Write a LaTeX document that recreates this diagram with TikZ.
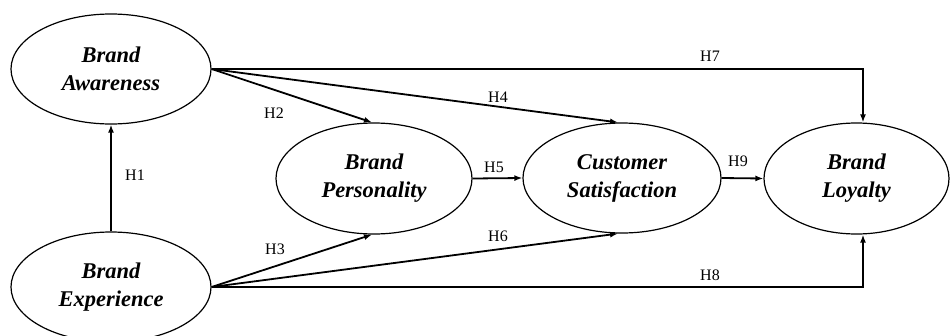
\documentclass[tikz,border=0pt]{standalone}
\usepackage{fontspec}
\setmainfont{Liberation Serif}
\usetikzlibrary{shapes.geometric,arrows.meta}

\tikzset{
  construct/.style={ellipse, draw, line width=1.2pt, inner sep=0pt,
    align=center, font=\fontsize{22.5}{28}\selectfont\bfseries\itshape},
  path/.style={line width=1.8pt, -{Latex[length=8pt,width=6pt]}},
  hyp/.style={inner sep=0pt, font=\fontsize{16}{18}\selectfont}
}

\begin{document}
\begin{tikzpicture}[x=1pt,y=-1pt]
\useasboundingbox (0,0) rectangle (950,335);

% latent constructs
\node[construct, minimum width=200pt, minimum height=110pt] (A) at (111,69) {Brand\\Awareness};
\node[construct, minimum width=200pt, minimum height=110pt] (E) at (111,287) {Brand\\Experience};
\node[construct, minimum width=196pt, minimum height=111pt] (P) at (374,178.5) {Brand\\Personality};
\node[construct, minimum width=198pt, minimum height=110pt] (S) at (622,178) {Customer\\Satisfaction};
\node[construct, minimum width=185pt, minimum height=111pt] (L) at (856.5,178.5) {Brand\\Loyalty};

% hypothesised paths
\draw[path] (E.north) -- (A.south);
\draw[path] (A.east) -- ([xshift=-2pt]P.north);
\draw[path] (A.east) -- ([xshift=-4pt]S.north);
\draw[path] (E.east) -- ([xshift=-2pt]P.south);
\draw[path] (E.east) -- ([xshift=-4pt]S.south);
\draw[path] (P.east) -- (S.west);
\draw[path] (S.east) -- (L.west);
\draw[path] (A.east) -| ([xshift=6.5pt]L.north);
\draw[path] (E.east) -| ([xshift=6.5pt]L.south);

% hypothesis labels
\node[hyp] (h1) at (135,175) {H1};
\node[hyp] (h2) at (274,113) {H2};
\node[hyp] (h3) at (275,249) {H3};
\node[hyp] (h4) at (498,97) {H4};
\node[hyp] (h5) at (494,167) {H5};
\node[hyp] (h6) at (498,236) {H6};
\node[hyp] (h7) at (710,56) {H7};
\node[hyp] (h8) at (710,275) {H8};
\node[hyp] (h9) at (738,161) {H9};
\end{tikzpicture}
\end{document}
